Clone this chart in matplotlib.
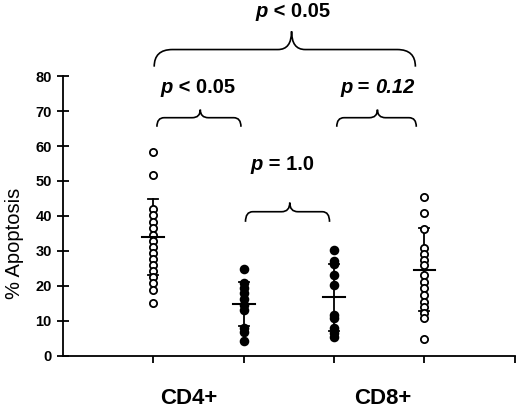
import numpy as np
import matplotlib
matplotlib.use("Agg")
import matplotlib.pyplot as plt
from matplotlib.path import Path
from matplotlib.patches import PathPatch
from matplotlib.offsetbox import TextArea, HPacker, AnnotationBbox

plt.rcParams["font.family"] = ["Liberation Sans", "DejaVu Sans"]

# % apoptosis per donor
cd4_open = [58.3, 51.6, 42.0, 40.3, 38.4, 36.5, 34.6, 32.7, 31.1, 29.3,
            27.6, 26.0, 24.3, 22.6, 20.9, 18.8, 15.2]
cd4_filled = [24.8, 20.7, 19.3, 17.9, 16.2, 14.5, 13.1, 7.8, 6.9, 4.3]
cd8_filled = [30.3, 27.2, 26.3, 23.1, 20.3, 11.7, 10.7, 7.8, 6.4, 5.4]
cd8_open = [45.4, 40.8, 36.2, 30.8, 29.1, 27.4, 26.0, 23.1, 21.2, 19.3,
            17.4, 15.5, 14.0, 12.3, 10.7, 4.7]

groups = [cd4_open, cd4_filled, cd8_filled, cd8_open]
filled = [False, True, True, False]
means = [33.9, 14.8, 16.7, 24.6]
sds = [10.9, 6.3, 9.6, 11.8]

categories = ["CD4+", "CD8+"]
p_labels = [("p", " < 0.05", False), ("p", " < 0.05", False),
            ("p", " = 1.0", False), ("p", " = 0.12", True)]


def brace(ax, x0, x1, xm, y_end, y_top, y_tip, r_end, r_tip):
    verts = [(x0, y_end), (x0, y_top), (x0 + r_end, y_top),
             (xm - r_tip, y_top), (xm, y_top), (xm, y_tip),
             (xm, y_top), (xm + r_tip, y_top),
             (x1 - r_end, y_top), (x1, y_top), (x1, y_end)]
    codes = [Path.MOVETO, Path.CURVE3, Path.CURVE3,
             Path.LINETO, Path.CURVE3, Path.CURVE3,
             Path.CURVE3, Path.CURVE3,
             Path.LINETO, Path.CURVE3, Path.CURVE3]
    ax.add_patch(PathPatch(Path(verts, codes), fill=False, lw=1.2,
                           color="black", clip_on=False))


def p_text(ax, x, y, label, size=14.5):
    p, rest, italic_rest = label
    bold = dict(weight="bold", size=size, color="black")
    parts = [TextArea(p, textprops=dict(style="italic", **bold))]
    if italic_rest:
        op, num = rest.rsplit(" ", 1)
        parts.append(TextArea(op + " ", textprops=bold))
        parts.append(TextArea(num, textprops=dict(style="italic", **bold)))
    else:
        parts.append(TextArea(rest, textprops=bold))
    box = HPacker(children=parts, pad=0, sep=0, align="baseline")
    ab = AnnotationBbox(box, (x, y), xycoords="data", frameon=False,
                        box_alignment=(0.5, 0.5), annotation_clip=False)
    ax.add_artist(ab)


fig = plt.figure(figsize=(5.2, 4.07), dpi=100)
ax = fig.add_axes([0.121, 0.126, 0.869, 0.687])

for i, (vals, fill, m, s) in enumerate(zip(groups, filled, means, sds)):
    xpos = i + 1
    ax.plot([xpos, xpos], [m - s, m + s], color="black", lw=1.3, zorder=2)
    for yy in (m - s, m + s):
        ax.plot([xpos - 0.055, xpos + 0.055], [yy, yy], color="black", lw=1.3, zorder=2)
    ax.plot([xpos - 0.12, xpos + 0.12], [m, m], color="black", lw=1.5, zorder=4)
    ax.plot(np.full(len(vals), xpos), vals, linestyle="none", marker="o",
            markersize=5.6 if fill else 5.2, markeredgewidth=1.3,
            markeredgecolor="black",
            markerfacecolor="black" if fill else "white", zorder=3)

ax.set_xlim(0, 5)
ax.set_ylim(0, 80)
ax.set_xticks([1, 2, 3, 4, 5])
ax.set_xticklabels([])
ax.set_yticks(np.arange(0, 81, 10))
ax.tick_params(axis="y", direction="inout", length=9, width=1.3, labelsize=10.5, pad=3.5)
ax.tick_params(axis="x", direction="out", length=5, width=1.3)
for lbl in ax.get_yticklabels():
    lbl.set_fontweight("bold")
for side in ("top", "right"):
    ax.spines[side].set_visible(False)
for side in ("left", "bottom"):
    ax.spines[side].set_linewidth(1.3)

ax.text(-0.54, 32, "% Apoptosis", rotation=90, ha="center", va="center", fontsize=14.5)

ax.text(1.39, -12.1, categories[0], ha="center", va="center", fontsize=16,
        fontweight="bold", clip_on=False)
ax.text(3.54, -12.1, categories[1], ha="center", va="center", fontsize=16,
        fontweight="bold", clip_on=False)

# braces
brace(ax, 1.01, 3.90, 2.53, 82.7, 87.6, 92.8, 0.2, 0.15)
brace(ax, 1.04, 1.97, 1.52, 65.5, 68.1, 70.4, 0.08, 0.09)
brace(ax, 3.03, 3.91, 3.48, 65.5, 68.1, 70.4, 0.08, 0.09)
brace(ax, 2.02, 2.95, 2.51, 38.3, 41.2, 43.8, 0.08, 0.09)

p_text(ax, 2.54, 98.5, p_labels[0])
p_text(ax, 1.49, 76.7, p_labels[1])
p_text(ax, 2.43, 54.6, p_labels[2])
p_text(ax, 3.48, 76.7, p_labels[3])

fig.savefig("out.png", dpi=100)
